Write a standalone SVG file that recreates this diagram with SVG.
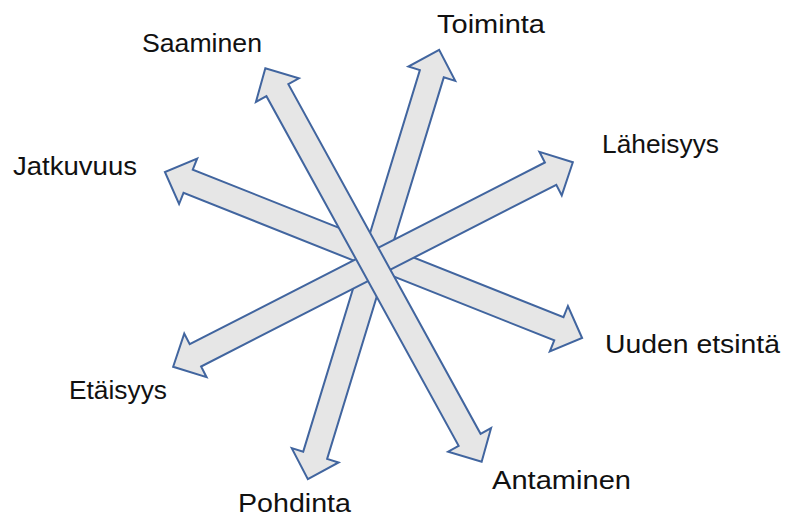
<svg xmlns="http://www.w3.org/2000/svg" width="785" height="520" viewBox="0 0 785 520">
  <defs>
    <style>
      .arrow { fill: #e6e6e6; stroke: #41659f; stroke-width: 2; stroke-linejoin: miter; }
      .lbl { font-family: "Liberation Sans", Arial, sans-serif; font-size: 26px; fill: #111111; }
    </style>
    <path id="dblArrow" d="M224.5,0 L199.5,-24.5 L199.5,-12.5 L-199.5,-12.5 L-199.5,-24.5 L-224.5,0 L-199.5,24.5 L-199.5,12.5 L199.5,12.5 L199.5,24.5 Z"/>
  </defs>
  <rect width="785" height="520" fill="#ffffff"/>
  <g id="connectors">
    <use href="#dblArrow" class="arrow" transform="translate(373.5,255) rotate(21.7)"/>
    <use href="#dblArrow" class="arrow" transform="translate(373.5,264.5) rotate(107)"/>
    <use href="#dblArrow" class="arrow" transform="translate(373,264.5) rotate(-27.1)"/>
    <use href="#dblArrow" class="arrow" transform="translate(373.5,265) rotate(61.2)"/>
  </g>
  <g id="saaminen"><text class="lbl" x="142" y="52" textLength="120" lengthAdjust="spacingAndGlyphs">Saaminen</text></g>
  <g id="toiminta"><text class="lbl" x="437" y="33" textLength="108" lengthAdjust="spacingAndGlyphs">Toiminta</text></g>
  <g id="laheisyys"><text class="lbl" x="602" y="153" textLength="117" lengthAdjust="spacingAndGlyphs">Läheisyys</text></g>
  <g id="jatkuvuus"><text class="lbl" x="13" y="175" textLength="124" lengthAdjust="spacingAndGlyphs">Jatkuvuus</text></g>
  <g id="uuden-etsinta"><text class="lbl" x="605" y="353" textLength="175" lengthAdjust="spacingAndGlyphs">Uuden etsintä</text></g>
  <g id="etaisyys"><text class="lbl" x="69" y="399" textLength="98" lengthAdjust="spacingAndGlyphs">Etäisyys</text></g>
  <g id="antaminen"><text class="lbl" x="492" y="489" textLength="139" lengthAdjust="spacingAndGlyphs">Antaminen</text></g>
  <g id="pohdinta"><text class="lbl" x="238" y="512" textLength="113" lengthAdjust="spacingAndGlyphs">Pohdinta</text></g>
</svg>
